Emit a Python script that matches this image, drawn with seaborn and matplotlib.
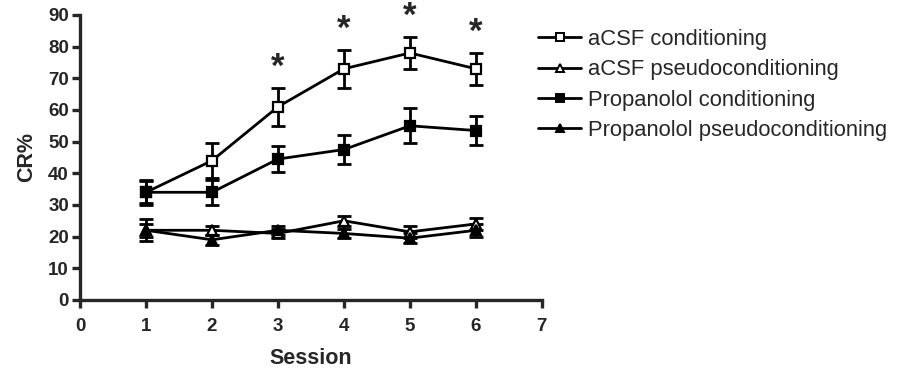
import numpy as np
import pandas as pd
import matplotlib
matplotlib.use("Agg")
import matplotlib.pyplot as plt
import seaborn as sns

sessions = [1, 2, 3, 4, 5, 6]
acsf_cond = [34, 44, 61, 73, 78, 73]
acsf_cond_err = [4, 5.5, 6, 6, 5, 5]
acsf_pseudo = [22, 22, 21, 25, 21.5, 24]
acsf_pseudo_err = [2, 1.5, 1.5, 1.5, 2, 2]
prop_cond = [34, 34, 44.5, 47.5, 55, 53.5]
prop_cond_err = [3.5, 4, 4, 4.5, 5.5, 4.5]
prop_pseudo = [22, 19, 22, 21, 19.5, 22]
prop_pseudo_err = [3.5, 1.5, 1.5, 1.5, 1.5, 2]
labels = ["aCSF conditioning", "aCSF pseudoconditioning",
          "Propanolol conditioning", "Propanolol pseudoconditioning"]
star_sessions = [3, 4, 5, 6]
x_ticks = [0, 1, 2, 3, 4, 5, 6, 7]
y_ticks = [0, 10, 20, 30, 40, 50, 60, 70, 80, 90]

sns.set_style("ticks")
plt.rcParams['font.family'] = ['Liberation Sans', 'DejaVu Sans']

fig = plt.figure(figsize=(9, 3.74), dpi=100)
ax = fig.add_axes([0.089, 0.198, 0.513, 0.762])

series = [
    (acsf_cond, acsf_cond_err, 's', 'white'),
    (acsf_pseudo, acsf_pseudo_err, '^', 'white'),
    (prop_cond, prop_cond_err, 's', 'black'),
    (prop_pseudo, prop_pseudo_err, '^', 'black'),
]
handles = []
for (vals, errs, mk, fc), lab in zip(series, labels):
    df = pd.DataFrame({"Session": sessions, "CR": vals})
    ax.errorbar(sessions, vals, yerr=errs, fmt='none', ecolor='black',
                elinewidth=2, capsize=5, capthick=2, zorder=2)
    sns.lineplot(data=df, x="Session", y="CR", ax=ax, color='black',
                 linewidth=2, marker=mk, markersize=7.5,
                 markerfacecolor=fc, markeredgecolor='black',
                 markeredgewidth=1.6, zorder=3)
    h, = ax.plot([], [], color='black', linewidth=2, marker=mk,
                 markersize=5.5, markerfacecolor=fc, markeredgecolor='black',
                 markeredgewidth=1.4)
    handles.append(h)

for s in star_sessions:
    i = sessions.index(s)
    ax.text(s, acsf_cond[i] + acsf_cond_err[i] + 1.2, "*", ha='center',
            va='bottom', fontsize=25, fontweight='bold')

ax.set_xlim(0, 7)
ax.set_ylim(0, 90)
ax.set_xticks(x_ticks)
ax.set_yticks(y_ticks)
ax.tick_params(axis='both', width=2.4, length=6, labelsize=13.5, direction='out')
ax.tick_params(axis='x', pad=7)
ax.tick_params(axis='y', pad=2)
for lab in ax.get_xticklabels() + ax.get_yticklabels():
    lab.set_fontweight('bold')
ax.set_xlabel("Session", fontsize=15.5, fontweight='bold', labelpad=9)
ax.set_ylabel("CR%", fontsize=15.5, fontweight='bold', labelpad=8)
for sp in ['left', 'bottom']:
    ax.spines[sp].set_linewidth(2.4)
sns.despine(ax=ax)

fig.legend(handles, labels, loc='upper left', bbox_to_anchor=(0.598, 0.922),
           frameon=False, fontsize=15.8, handlelength=1.95, handletextpad=0.3,
           labelspacing=0.42, borderpad=0, borderaxespad=0)

fig.savefig("out.png", dpi=100)
